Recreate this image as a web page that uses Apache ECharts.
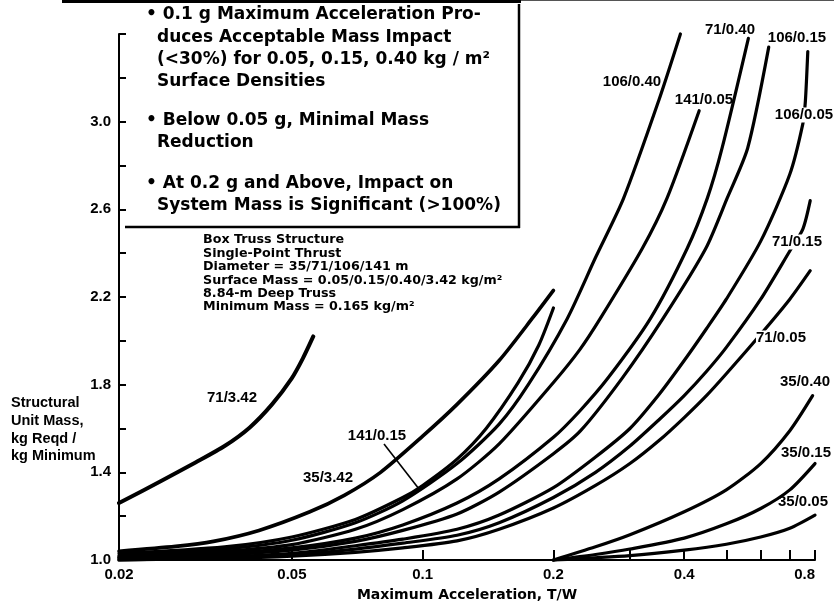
<!DOCTYPE html>
<html><head><meta charset="utf-8">
<script src="https://cdn.jsdelivr.net/npm/echarts@6/dist/echarts.min.js"></script>
<style>html,body{margin:0;padding:0;background:#fff}#c{width:834px;height:607px}</style>
</head><body><div id="c"></div>
<script>
// ---------- DATA ----------
const curveNames = ['71/3.42','35/3.42','141/0.15','106/0.40','141/0.05','71/0.40','106/0.15','106/0.05','71/0.15','71/0.05','35/0.40','35/0.15','35/0.05'];

const c71_342_x = [0.02,0.025,0.03,0.035,0.04,0.045,0.05,0.053,0.056];
const c71_342_y = [1.26,1.36,1.445,1.52,1.605,1.71,1.83,1.92,2.02];

const c35_342_x = [0.02,0.027,0.033,0.042,0.055,0.066,0.08,0.1,0.12,0.15,0.18,0.2];
const c35_342_y = [1.04,1.062,1.085,1.135,1.22,1.295,1.40,1.565,1.71,1.91,2.11,2.23];

const c141_015_x = [0.02,0.035,0.05,0.07,0.09,0.1,0.12,0.14,0.166,0.185,0.2];
const c141_015_y = [1.03,1.06,1.105,1.185,1.285,1.34,1.46,1.60,1.81,1.98,2.15];

const c106_040_x = [0.02,0.035,0.05,0.07,0.09,0.12,0.15,0.175,0.215,0.25,0.29,0.35,0.392];
const c106_040_y = [1.02,1.05,1.09,1.17,1.27,1.44,1.62,1.80,2.10,2.38,2.65,3.10,3.40];

const c141_005_x = [0.02,0.035,0.05,0.07,0.09,0.12,0.15,0.2,0.23,0.256,0.32,0.365,0.433];
const c141_005_y = [1.015,1.04,1.07,1.14,1.23,1.37,1.53,1.81,1.96,2.10,2.42,2.65,3.05];

const c71_040_x = [0.02,0.035,0.05,0.07,0.09,0.12,0.15,0.2,0.23,0.267,0.334,0.406,0.452,0.489,0.562];
const c71_040_y = [1.01,1.03,1.055,1.10,1.16,1.26,1.37,1.56,1.68,1.83,2.10,2.42,2.65,2.88,3.38];

const c106_015_x = [0.02,0.035,0.05,0.07,0.09,0.12,0.15,0.2,0.231,0.288,0.357,0.448,0.502,0.56,0.626];
const c106_015_y = [1.01,1.025,1.045,1.085,1.135,1.21,1.31,1.485,1.59,1.83,2.10,2.42,2.65,2.88,3.34];

const c106_005_x = [0.02,0.035,0.05,0.07,0.09,0.12,0.15,0.2,0.25,0.3,0.35,0.4,0.45,0.5,0.6,0.7,0.75,0.76,0.77];
const c106_005_y = [1.005,1.015,1.03,1.065,1.095,1.14,1.205,1.33,1.47,1.60,1.755,1.91,2.055,2.19,2.455,2.76,2.99,3.09,3.32];

const c71_015_x = [0.02,0.035,0.05,0.07,0.09,0.12,0.15,0.2,0.25,0.3,0.35,0.4,0.45,0.5,0.6,0.7,0.75,0.78];
const c71_015_y = [1.0,1.01,1.023,1.05,1.077,1.113,1.17,1.285,1.40,1.52,1.64,1.75,1.86,1.97,2.19,2.41,2.51,2.64];

const c71_005_x = [0.02,0.035,0.05,0.07,0.09,0.12,0.15,0.2,0.25,0.3,0.35,0.4,0.45,0.5,0.6,0.7,0.78];
const c71_005_y = [1.0,1.008,1.018,1.035,1.055,1.087,1.14,1.237,1.34,1.44,1.545,1.65,1.75,1.85,2.03,2.19,2.32];

const c35_040_x = [0.2,0.25,0.3,0.4,0.5,0.6,0.7,0.79];
const c35_040_y = [1.0,1.06,1.115,1.22,1.32,1.44,1.59,1.75];

const c35_015_x = [0.2,0.25,0.3,0.4,0.5,0.6,0.7,0.8];
const c35_015_y = [1.0,1.025,1.05,1.10,1.165,1.235,1.32,1.44];

const c35_005_x = [0.2,0.3,0.4,0.5,0.6,0.7,0.8];
const c35_005_y = [1.0,1.02,1.045,1.072,1.105,1.145,1.205];

const xTickValues = [0.02,0.05,0.1,0.2,0.3,0.4,0.5,0.6,0.7,0.8];
const xTickLabels = [0.02,0.05,0.1,0.2,0.4,0.8];
const yTickLabels = [1.0,1.4,1.8,2.2,2.6,3.0];

const boxNotes = [
  '\u2022 0.1 g Maximum Acceleration Pro-',
  'duces Acceptable Mass Impact',
  '(<30%) for 0.05, 0.15, 0.40 kg / m\u00B2',
  'Surface Densities',
  '\u2022 Below 0.05 g, Minimal Mass',
  'Reduction',
  '\u2022 At 0.2 g and Above, Impact on',
  'System Mass is Significant (>100%)'
];
const caseNotes = [
  'Box Truss Structure',
  'Single-Point Thrust',
  'Diameter = 35/71/106/141 m',
  'Surface Mass = 0.05/0.15/0.40/3.42 kg/m\u00B2',
  '8.84-m Deep Truss',
  'Minimum Mass = 0.165 kg/m\u00B2'
];
const yTitleLines = ['Structural','Unit Mass,','kg Reqd /','kg Minimum'];
const xTitle = 'Maximum Acceleration, T/W';

// ---------- LAYOUT / STYLE ----------
const FONT = "'Liberation Sans', Arial, sans-serif";
const WIDE = "'DejaVu Sans', 'Liberation Sans', sans-serif";
const curveData = {
  '71/3.42':[c71_342_x,c71_342_y], '35/3.42':[c35_342_x,c35_342_y], '141/0.15':[c141_015_x,c141_015_y],
  '106/0.40':[c106_040_x,c106_040_y], '141/0.05':[c141_005_x,c141_005_y], '71/0.40':[c71_040_x,c71_040_y],
  '106/0.15':[c106_015_x,c106_015_y], '106/0.05':[c106_005_x,c106_005_y], '71/0.15':[c71_015_x,c71_015_y],
  '71/0.05':[c71_005_x,c71_005_y], '35/0.40':[c35_040_x,c35_040_y], '35/0.15':[c35_015_x,c35_015_y],
  '35/0.05':[c35_005_x,c35_005_y]
};
const lineWidth = {'71/3.42':4, '35/3.42':3.6};
const labelPos = {
  '71/3.42':[232,398], '35/3.42':[328,478], '141/0.15':[377,436], '106/0.40':[632,82],
  '141/0.05':[704,100], '71/0.40':[730,30], '106/0.15':[797,38], '106/0.05':[804,115],
  '71/0.15':[797,242], '71/0.05':[781,338], '35/0.40':[805,382], '35/0.15':[806,453], '35/0.05':[803,502]
};
const maskedLabels = ['71/0.15','71/0.05','106/0.05'];
const lg = v => Math.log10(v);

const series = curveNames.map(n => {
  const [xs, ys] = curveData[n];
  return {
    type:'line', name:n, data: xs.map((x,i)=>[lg(x), ys[i]]),
    smooth:0.25, symbol:'none', clip:false, silent:true,
    lineStyle:{color:'#000', width: lineWidth[n] || 3.2, cap:'round', join:'round'}
  };
});

const graphics = [];
graphics.push({type:'line', shape:{x1:62,y1:1.5,x2:521,y2:1.5}, style:{stroke:'#000',lineWidth:3}});
graphics.push({type:'line', shape:{x1:521,y1:0.5,x2:834,y2:0.5}, style:{stroke:'#555',lineWidth:1}});
graphics.push({type:'line', shape:{x1:519,y1:4,x2:519,y2:228}, style:{stroke:'#000',lineWidth:2.5}});
graphics.push({type:'line', shape:{x1:125,y1:227,x2:520,y2:227}, style:{stroke:'#000',lineWidth:2.5}});
const boxLayout = [[146,15],[157,38],[157,60],[157,82],[146,121],[157,143],[146,184],[157,206]];
boxNotes.forEach((t,i)=>graphics.push({type:'text', x:boxLayout[i][0], y:boxLayout[i][1],
  style:{text:t, fill:'#000', font:'bold 17px '+WIDE, verticalAlign:'middle', align:'left'}}));
caseNotes.forEach((t,i)=>graphics.push({type:'text', x:203, y:240+i*13.4,
  style:{text:t, fill:'#000', font:'bold 12.7px '+WIDE, verticalAlign:'middle', align:'left'}}));
yTitleLines.forEach((t,i)=>graphics.push({type:'text', x:11, y:403+i*17.8,
  style:{text:t, fill:'#000', font:'bold 14.5px '+FONT, verticalAlign:'middle', align:'left'}}));
curveNames.forEach(n=>{
  const p = labelPos[n];
  graphics.push({type:'text', x:p[0], y:p[1], z:10,
    style:{text:n, fill:'#000', font:'bold 15px '+FONT, verticalAlign:'middle', align:'center',
      backgroundColor: maskedLabels.indexOf(n) >= 0 ? '#fff' : null}});
});
graphics.push({type:'line', shape:{x1:384,y1:444,x2:419,y2:489}, style:{stroke:'#000',lineWidth:1.6}});

const chart = echarts.init(document.getElementById('c'), null, {renderer:'canvas'});
chart.setOption({
  backgroundColor:'#fff',
  animation:false,
  grid:{left:119, right:19, top:34, bottom:45, containLabel:false},
  xAxis:{
    type:'value', min:lg(0.02), max:lg(0.8),
    axisLine:{lineStyle:{color:'#000', width:2}},
    axisTick:{inside:true, length:10, customValues:xTickValues.map(lg), lineStyle:{color:'#000', width:2}},
    axisLabel:{customValues:xTickLabels.map(lg), color:'#000', fontFamily:FONT, fontWeight:'bold', fontSize:15, margin:7,
      alignMaxLabel:'right',
      formatter:v=>{ const r = Math.pow(10,v); let best = xTickLabels[0];
        xTickLabels.forEach(l=>{ if (Math.abs(l-r) < Math.abs(best-r)) best = l; }); return String(best); }},
    splitLine:{show:false},
    name:xTitle, nameLocation:'middle', nameGap:28,
    nameTextStyle:{color:'#000', fontFamily:WIDE, fontWeight:'bold', fontSize:14}
  },
  yAxis:{
    type:'value', min:1.0, max:3.4, interval:0.2,
    axisLine:{lineStyle:{color:'#000', width:2}},
    axisTick:{inside:true, length:7, lineStyle:{color:'#000', width:2}},
    axisLabel:{customValues:yTickLabels, color:'#000', fontFamily:FONT, fontWeight:'bold', fontSize:15, margin:8,
      formatter:v=>Number(v).toFixed(1)},
    splitLine:{show:false}
  },
  series: series,
  graphic: graphics
});
</script>
</body></html>
